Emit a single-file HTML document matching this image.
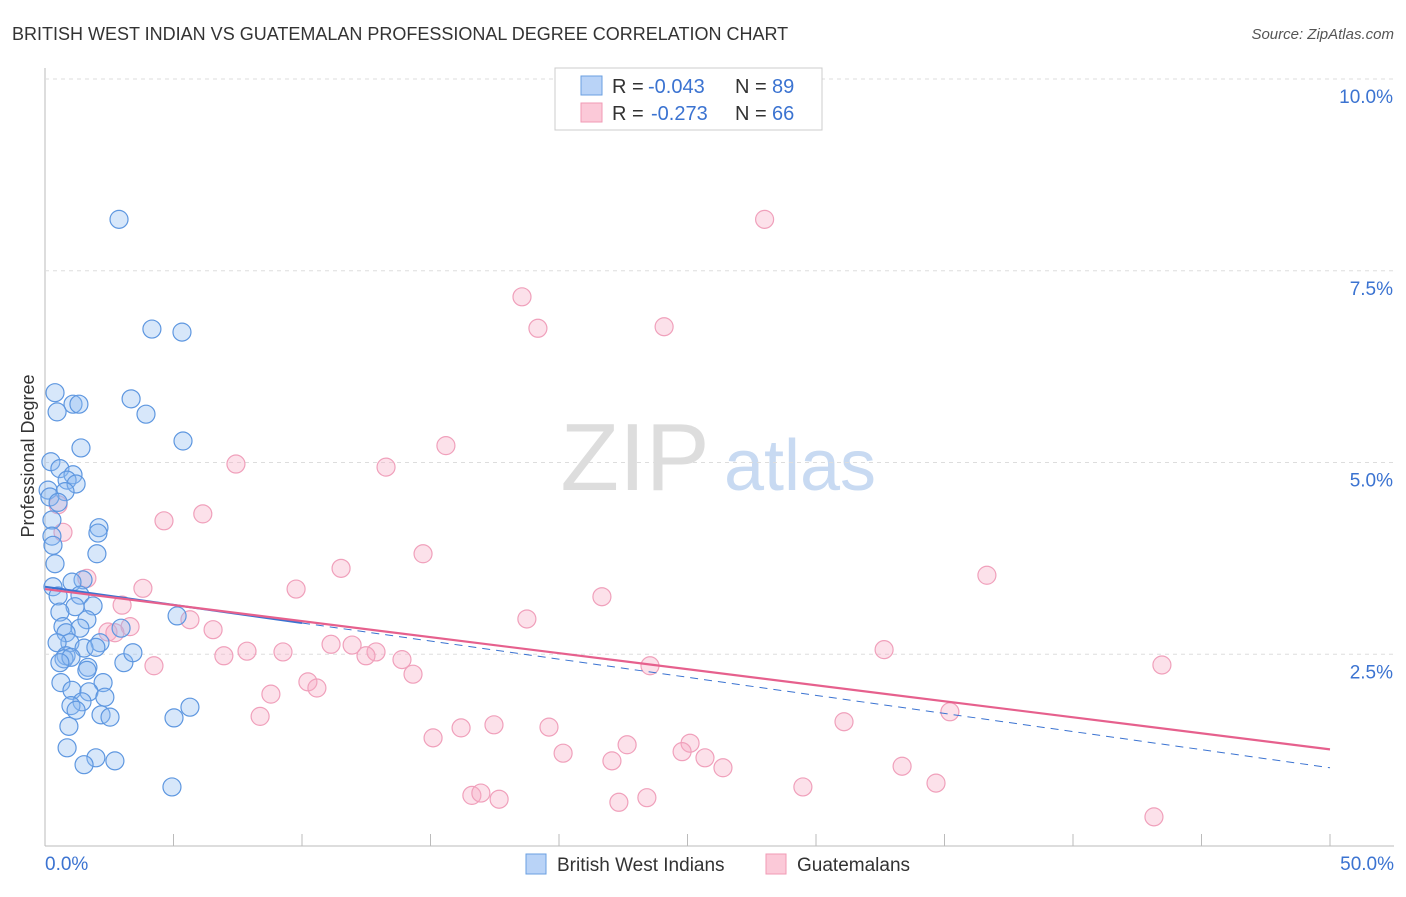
<!DOCTYPE html>
<html><head><meta charset="utf-8"><style>
body{margin:0;background:#fff;font-family:"Liberation Sans",sans-serif;}
svg text{font-family:"Liberation Sans",sans-serif;}
</style></head><body>
<svg id="c" width="1406" height="892">
<text x="12" y="40" font-size="18" fill="#333">BRITISH WEST INDIAN VS GUATEMALAN PROFESSIONAL DEGREE CORRELATION CHART</text>
<text x="1394" y="39" font-size="15" fill="#555" text-anchor="end" font-style="italic">Source: ZipAtlas.com</text>
<text x="34" y="456" font-size="18" fill="#333" text-anchor="middle" transform="rotate(-90 34 456)">Professional Degree</text>
<g><text x="635" y="490" font-size="96" fill="#ddd" text-anchor="middle" font-family="Liberation Serif">ZIP</text><text x="800" y="490" font-size="72" fill="#c8daf2" text-anchor="middle">atlas</text></g>
<g id="grid"></g><g id="pts"></g><g id="lines"></g>
<g>
<rect x="555" y="68" width="267" height="62" fill="#fff" stroke="#ccc"/>
<rect x="581" y="76" width="21" height="19" fill="#b9d3f7" stroke="#6a9fe0"/>
<rect x="581" y="103" width="21" height="19" fill="#fbc9d8" stroke="#f09ab5"/>
<text x="612" y="93" font-size="20" fill="#333">R =</text>
<text x="648" y="93" font-size="20" fill="#3b73d1">-0.043</text>
<text x="735" y="93" font-size="20" fill="#333">N =</text>
<text x="772" y="93" font-size="20" fill="#3b73d1">89</text>
<text x="612" y="120" font-size="20" fill="#333">R =</text>
<text x="651" y="120" font-size="20" fill="#3b73d1">-0.273</text>
<text x="735" y="120" font-size="20" fill="#333">N =</text>
<text x="772" y="120" font-size="20" fill="#3b73d1">66</text>
</g>
<g>
<rect x="526" y="854" width="20" height="20" fill="#b9d3f7" stroke="#6a9fe0"/>
<text x="557" y="871" font-size="19" fill="#333">British West Indians</text>
<rect x="766" y="854" width="20" height="20" fill="#fbc9d8" stroke="#f09ab5"/>
<text x="797" y="871" font-size="19" fill="#333">Guatemalans</text>
</g>
</svg>
<script>
const yTicks=[2.5,5.0,7.5,10.0];
const xTickLabels=["0.0%","50.0%"];
const blueX=[2.88,4.16,5.33,0.39,3.35,1.09,1.32,0.47,3.93,5.37,1.40,0.23,0.58,1.09,0.86,1.21,0.12,0.78,0.19,0.51,0.27,2.10,2.06,0.27,0.31,2.02,0.39,0.31,1.48,1.05,1.36,0.51,1.87,1.17,0.58,1.63,5.14,0.70,1.36,0.82,2.96,0.97,2.14,1.52,0.47,1.98,0.82,0.74,1.01,0.58,3.07,3.42,1.67,1.63,0.62,2.26,1.05,1.71,2.33,1.44,1.01,1.21,2.18,2.53,5.64,5.02,0.93,0.86,1.98,1.52,2.72,4.94];
const blueY=[8.17,6.74,6.70,5.91,5.83,5.76,5.76,5.66,5.63,5.28,5.19,5.01,4.92,4.84,4.77,4.72,4.64,4.62,4.55,4.48,4.25,4.15,4.08,4.04,3.92,3.81,3.68,3.38,3.47,3.44,3.27,3.26,3.13,3.12,3.05,2.95,3.00,2.86,2.84,2.78,2.84,2.65,2.65,2.58,2.65,2.59,2.48,2.44,2.46,2.39,2.39,2.52,2.33,2.29,2.13,2.13,2.03,2.01,1.94,1.88,1.83,1.77,1.71,1.68,1.81,1.67,1.56,1.28,1.15,1.06,1.11,0.77];
const pinkX=[28.0,18.56,19.18,24.09,15.60,7.43,13.27,6.14,4.63,0.70,0.51,14.71,11.52,36.65,3.81,9.77,21.67,3.00,1.63,18.75,5.64,3.31,6.54,2.45,11.13,11.95,7.86,9.26,12.88,12.49,13.89,6.96,4.24,23.54,32.65,43.46,14.32,10.23,10.58,8.79,35.21,8.37,31.09,17.47,19.61,16.19,15.10,25.10,22.65,24.79,20.16,25.68,22.06,26.38,33.35,34.67,29.49,16.61,16.96,17.67,22.33,23.42,43.15,2.72];
const pinkY=[8.17,7.16,6.75,6.77,5.22,4.98,4.94,4.33,4.24,4.09,4.45,3.81,3.62,3.53,3.36,3.35,3.25,3.14,3.49,2.96,2.95,2.86,2.82,2.79,2.63,2.62,2.54,2.53,2.53,2.48,2.43,2.48,2.35,2.35,2.56,2.36,2.24,2.14,2.06,1.98,1.75,1.69,1.62,1.58,1.55,1.54,1.41,1.34,1.32,1.23,1.21,1.15,1.11,1.02,1.04,0.82,0.77,0.66,0.69,0.61,0.57,0.63,0.38,2.78];
const blueTrend=[3.38,1.02];
const pinkTrend=[3.35,1.26];
const X=v=>45+v*25.7, Y=v=>846-v*76.7;
const NS="http://www.w3.org/2000/svg";
function mk(t,a,p){const e=document.createElementNS(NS,t);for(const k in a)e.setAttribute(k,a[k]);p.appendChild(e);return e;}
const g=document.getElementById('grid');
let ax=mk('line',{x1:45,y1:68,x2:45,y2:846,stroke:'#bbb'},g);


let bx=mk('line',{x1:45,y1:846,x2:1394,y2:846,stroke:'#bbb'},g);


for(let i=0;i<=10;i++){let t=mk('line',{x1:X(i*5),y1:834,x2:X(i*5),y2:846,stroke:'#bbb'},g);

}
yTicks.forEach(v=>{let l=mk('line',{x1:45,y1:Y(v),x2:1394,y2:Y(v),stroke:'#ddd','stroke-dasharray':'4,4'},g);


let t=mk('text',{x:1393,y:Y(v)+24,'font-size':19,fill:'#3b73d1','text-anchor':'end'},g);t.textContent=v.toFixed(1)+'%';

});
let t0=mk('text',{x:45,y:870,'font-size':19,fill:'#3b73d1'},g);t0.textContent=xTickLabels[0];


let t1=mk('text',{x:1394,y:870,'font-size':19,fill:'#3b73d1','text-anchor':'end'},g);t1.textContent=xTickLabels[1];


const p=document.getElementById('pts');
pinkX.forEach((v,i)=>{let c=mk('circle',{cx:X(v),cy:Y(pinkY[i]),r:9,fill:'rgba(246,170,195,0.35)',stroke:'#f0a0bb','stroke-width':1.2},p);

});
blueX.forEach((v,i)=>{let c=mk('circle',{cx:X(v),cy:Y(blueY[i]),r:9,fill:'rgba(140,185,240,0.35)',stroke:'#5e97e0','stroke-width':1.2},p);

});
const L=document.getElementById('lines');
let b1=mk('line',{x1:X(0),y1:Y(blueTrend[0]),x2:X(10),y2:Y(blueTrend[0]+(blueTrend[1]-blueTrend[0])*0.2),stroke:'#3b73d1','stroke-width':2},L);


let b2=mk('line',{x1:X(10),y1:Y(blueTrend[0]+(blueTrend[1]-blueTrend[0])*0.2),x2:X(50),y2:Y(blueTrend[1]),stroke:'#3b73d1','stroke-width':1,'stroke-dasharray':'8,6'},L);


let pl=mk('line',{x1:X(0),y1:Y(pinkTrend[0]),x2:X(50),y2:Y(pinkTrend[1]),stroke:'#e6608d','stroke-width':2.2},L);


</script>
</body></html>
